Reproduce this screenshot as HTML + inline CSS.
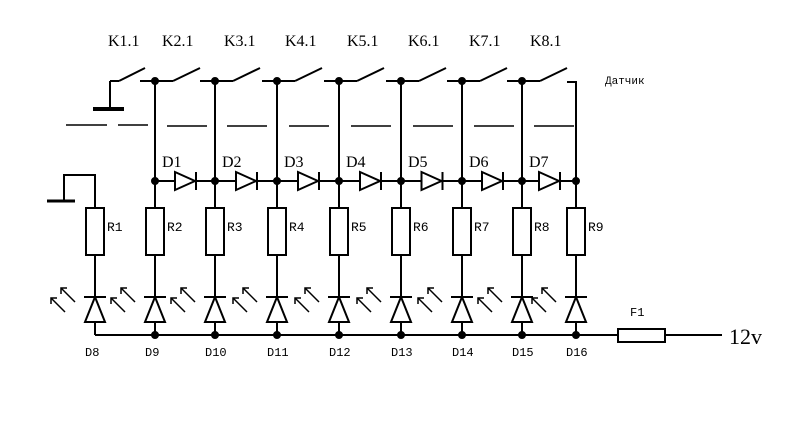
<!DOCTYPE html>
<html><head><meta charset="utf-8"><style>
html,body{margin:0;padding:0;background:#fff;width:800px;height:427px;overflow:hidden}
svg text{fill:#000}
</style></head><body>
<svg id="s" width="800" height="427" viewBox="0 0 800 427" xmlns="http://www.w3.org/2000/svg">
<g stroke="#000" stroke-width="2" fill="none" id="g">
<!-- ground K1 -->
<line x1="110" y1="81" x2="110" y2="109"/>
<line x1="93" y1="109" x2="124" y2="109" stroke-width="4"/>
<line x1="110" y1="81" x2="119" y2="81"/>
<line x1="119" y1="81" x2="145" y2="68"/>
<!-- top-left ground for R1 -->
<polyline points="64,201 64,175 95,175 95,208"/>
<line x1="47" y1="201" x2="75" y2="201" stroke-width="3"/>
<!-- dashed line -->
<line x1="66" y1="125" x2="107" y2="125" stroke-width="1.5"/>
<line x1="118" y1="125" x2="148" y2="125" stroke-width="1.5"/>
<!-- bottom rail -->
<line x1="95" y1="335" x2="618" y2="335"/>
<rect x="618" y="329" width="47" height="13"/>
<line x1="665" y1="335" x2="722" y2="335"/>
<!-- K8 right contact -->
<polyline points="567,82 576,82 576,208"/>
</g>
<g font-family="Liberation Serif, serif" font-size="16">
<text x="108" y="46">K1.1</text><text x="162" y="46">K2.1</text><text x="224" y="46">K3.1</text><text x="285" y="46">K4.1</text><text x="347" y="46">K5.1</text><text x="408" y="46">K6.1</text><text x="469" y="46">K7.1</text><text x="530" y="46">K8.1</text>
<text x="729" y="344" font-size="22">12v</text>
</g>
<text x="605" y="84" font-family="Liberation Mono, DejaVu Sans Mono, monospace" font-size="11">Датчик</text>
<text x="630" y="316" font-family="Liberation Mono, monospace" font-size="12">F1</text>
</svg>
<script>
var g=document.getElementById('g'),s=document.getElementById('s'),NS='http://www.w3.org/2000/svg';
function el(t,a,p){var e=document.createElementNS(NS,t);for(var k in a)e.setAttribute(k,a[k]);(p||g).appendChild(e);return e;}
function tx(x,y,str,fs,ff){var e=el('text',{x:x,y:y,'font-size':fs,'font-family':ff},s);e.textContent=str;}
var cols=[95,155,215,277,339,401,462,522,576];
// switches columns 1..7
for(var i=1;i<=7;i++){var x=cols[i];
 el('line',{x1:x-15,y1:81,x2:x+18,y2:81});
 el('line',{x1:x+18,y1:81,x2:x+45,y2:68});
 el('line',{x1:x,y1:81,x2:x,y2:208});
 el('circle',{cx:x,cy:81,r:3,fill:'#000'});
 el('line',{x1:x+12,y1:126,x2:x+52,y2:126,'stroke-width':1.5});
 el('circle',{cx:x,cy:181,r:3,fill:'#000'});
}
el('circle',{cx:576,cy:181,r:3,fill:'#000'});
// diode row
el('line',{x1:155,y1:181,x2:576,y2:181});
for(var i=1;i<=7;i++){var a=cols[i],b=cols[i+1],m=(a+b)/2;
 el('polygon',{points:(m-10)+',172 '+(m-10)+',190 '+(m+10)+',181',fill:'#fff'});
 el('line',{x1:m+11,y1:172,x2:m+11,y2:190});
 tx(a+7,167,'D'+i,16,'Liberation Serif, serif');
}
// resistors, LEDs
for(var i=0;i<9;i++){var x=cols[i];
 el('rect',{x:x-9,y:208,width:18,height:47,fill:'#fff'});
 el('line',{x1:x,y1:255,x2:x,y2:335});
 el('polygon',{points:(x-10)+',322 '+(x+10)+',322 '+x+',297',fill:'#fff'});
 el('line',{x1:x-11,y1:297,x2:x+11,y2:297});
 // arrows
 [[-37,316,-27,294],[-27,306,-17,292]].forEach(function(q){});
 var ar=[[x-40,312],[x-30,302]];
 ar.forEach(function(p){var x1=p[0],y1=p[1],x2=x1-14,y2=y1-14;
   el('line',{x1:x1+10,y1:y1,x2:x2+10,y2:y2,'stroke-width':1.5});
   el('polyline',{points:(x2+10)+','+(y2+6)+' '+(x2+10)+','+y2+' '+(x2+16)+','+y2,'stroke-width':1.5});
 });
 if(i>0)el('circle',{cx:x,cy:335,r:3,fill:'#000'});
 tx(x+12,231,'R'+(i+1),13,'Liberation Mono, monospace');
 tx(x-10,356,'D'+(i+8),12,'Liberation Mono, monospace');
}
</script>
</body></html>
